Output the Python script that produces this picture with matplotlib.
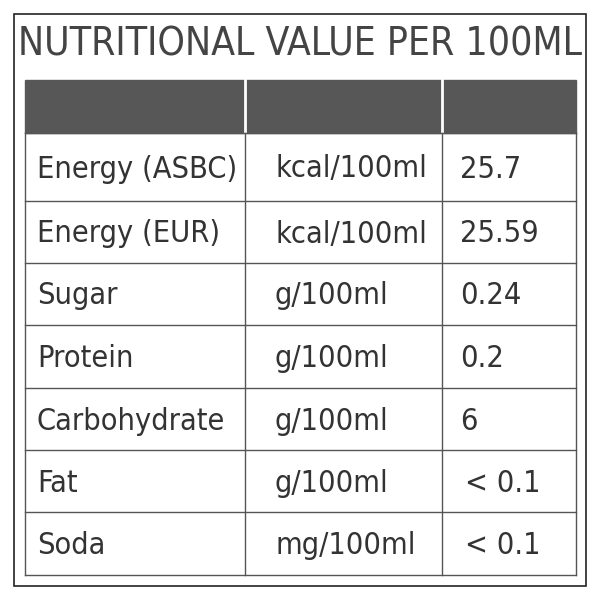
import matplotlib
matplotlib.use("Agg")
import matplotlib.pyplot as plt
from matplotlib.patches import Rectangle

title = "NUTRITIONAL VALUE PER 100ML"
nutrients = ["Energy (ASBC)", "Energy (EUR)", "Sugar", "Protein", "Carbohydrate", "Fat", "Soda"]
units = ["kcal/100ml", "kcal/100ml", "g/100ml", "g/100ml", "g/100ml", "g/100ml", "mg/100ml"]
values = ["25.7", "25.59", "0.24", "0.2", "6", "< 0.1", "< 0.1"]

fig = plt.figure(figsize=(6, 6), dpi=100)
ax = fig.add_axes([0, 0, 1, 1])
ax.set_xlim(0, 600); ax.set_ylim(600, 0); ax.axis("off")

ax.add_patch(Rectangle((14, 14), 572, 572, fill=False, ec="#222", lw=1.2))
ax.text(300, 44, title, ha="center", va="center", fontsize=28, color="#444",
        family="DejaVu Sans", fontstretch="condensed")

cols = [25, 245, 442, 576]
rows = [80, 133, 201, 263, 325, 388, 450, 512, 575]
ax.add_patch(Rectangle((cols[0], rows[0]), cols[-1]-cols[0], rows[1]-rows[0], color="#575757"))
for x in cols[1:-1]:
    ax.plot([x, x], [rows[0], rows[1]], color="white", lw=2)
for y in rows[1:]:
    ax.plot([cols[0], cols[-1]], [y, y], color="#555", lw=1)
for x in cols:
    ax.plot([x, x], [rows[1], rows[-1]], color="#555", lw=1)

pads = [12, 30, 18]
for i, (n, u, v) in enumerate(zip(nutrients, units, values)):
    yc = (rows[i+1] + rows[i+2]) / 2 + 2
    for j, t in enumerate([n, u, v]):
        x = cols[j] + pads[j]
        if t.startswith("<"):
            x += 5
        ax.text(x, yc, t, ha="left", va="center", fontsize=22, color="#333",
                family="DejaVu Sans", fontstretch="condensed")

fig.savefig("out.png", dpi=100, facecolor="white")
